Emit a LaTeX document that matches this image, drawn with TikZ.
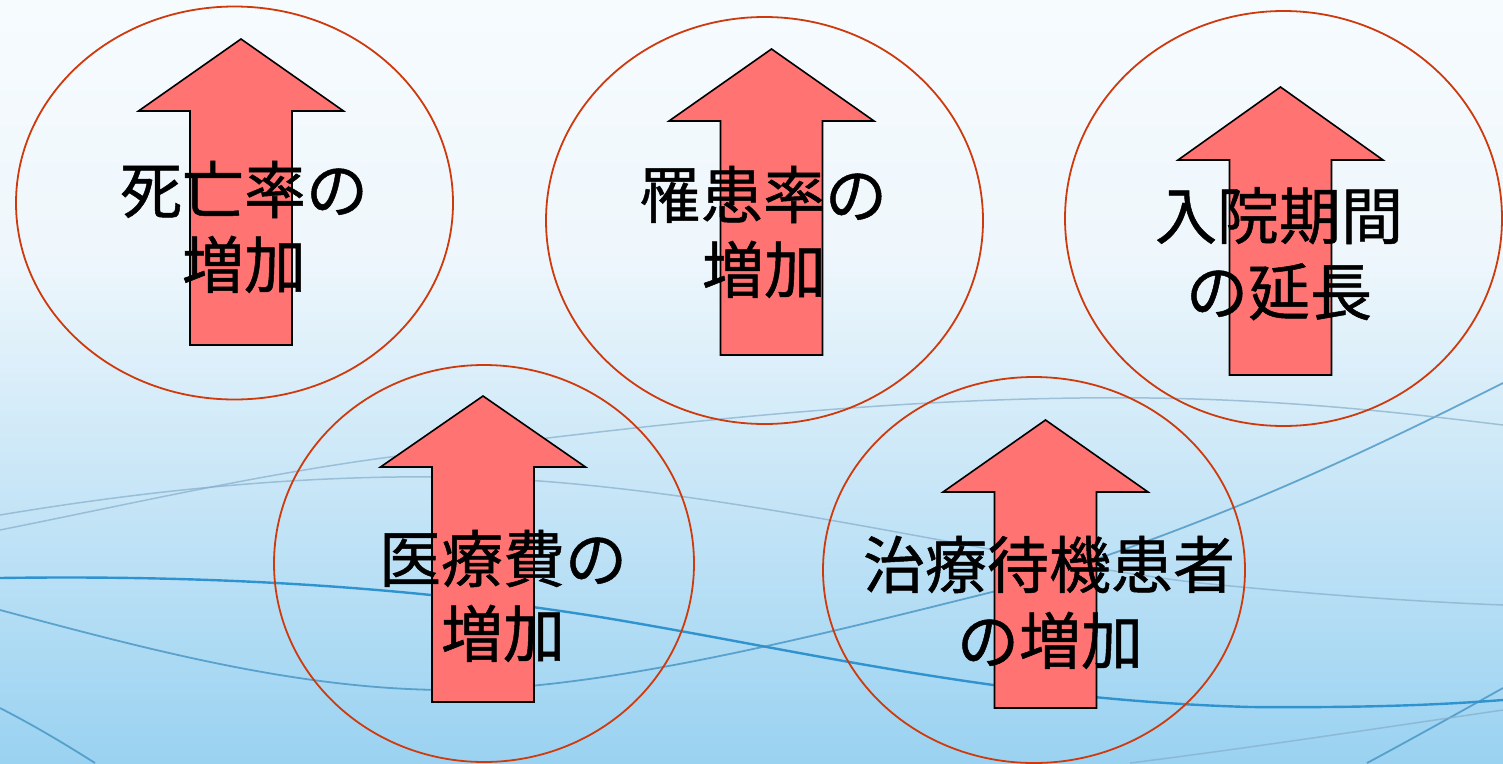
\documentclass[tikz,border=0pt]{standalone}
\usepackage{fontspec}
\newfontfamily\jpfont{Noto Sans CJK JP}[FakeBold=0.8]
\definecolor{bgtop}{HTML}{F6FBFE}
\definecolor{bgupper}{HTML}{EFF7FC}
\definecolor{bgmid}{HTML}{D0E9F7}
\definecolor{bgbot}{HTML}{9AD2F1}
\definecolor{ellred}{HTML}{CF3A0C}
\definecolor{arrowfill}{HTML}{FF7373}
\definecolor{wavedark}{HTML}{2F93D0}
\definecolor{wavelight}{HTML}{86AECB}
\newcommand\myarrow[4]{\draw[arrowshape] (#1,#2) -- (#1+102.5,#3) -- (#1+51,#3) -- (#1+51,#4) -- (#1-51,#4) -- (#1-51,#3) -- (#1-102.5,#3) -- cycle;}
\begin{document}
\begin{tikzpicture}[x=1pt,y=-1pt,
  ell/.style={draw=ellred,line width=1.8pt},
  arrowshape/.style={fill=arrowfill,draw=black,line width=1.6pt,line join=miter},
  lbl/.style={font=\jpfont\fontsize{62}{62}\selectfont,inner sep=0pt,anchor=base,text=black},
  wavemain/.style={draw=wavedark,line width=2.4pt},
  wavefaint/.style={draw=wavelight,line width=1.5pt,opacity=0.7},
  wavemid/.style={draw=wavedark!80!gray,line width=1.8pt,opacity=0.75}]
\useasboundingbox (0,0) rectangle (1503,763);
\shade[top color=bgtop,bottom color=bgupper] (0,0) rectangle (1503,251);
\shade[top color=bgupper,middle color=bgmid,bottom color=bgbot] (0,250) rectangle (1503,763);
% background waves
\draw[wavemain] (0,578) .. controls (200,575) and (400,585) .. (600,617) .. controls (800,650) and (1000,700) .. (1250,707) .. controls (1380,708) and (1450,704) .. (1503,700);
\draw[wavemid] (0,610) .. controls (150,650) and (300,690) .. (450,690) .. controls (600,690) and (800,640) .. (1000,590) .. controls (1200,530) and (1350,460) .. (1503,383);
\draw[wavefaint] (0,515) .. controls (150,490) and (300,475) .. (450,477) .. controls (700,480) and (1000,560) .. (1200,583) .. controls (1350,598) and (1450,603) .. (1503,605);
\draw[wavefaint] (0,530) .. controls (150,500) and (300,465) .. (450,450) .. controls (650,425) and (900,395) .. (1150,398) .. controls (1300,400) and (1420,415) .. (1503,425);
\draw[wavemid] (0,708) .. controls (35,726) and (65,744) .. (95,763);
\draw[wavemid] (1367,763) .. controls (1410,740) and (1460,712) .. (1503,688);
\draw[wavefaint] (1130,763) .. controls (1250,748) and (1400,725) .. (1503,710);
% ellipses
\draw[ell] (234.5,203) ellipse [x radius=218.5, y radius=196.5];
\draw[ell] (764.5,220.5) ellipse [x radius=218.5, y radius=203.5];
\draw[ell] (1283.5,218.5) ellipse [x radius=218.5, y radius=207.5];
\draw[ell] (484,563.5) ellipse [x radius=210, y radius=198.5];
\draw[ell] (1034,570) ellipse [x radius=211, y radius=193];
% arrows
\myarrow{241}{39}{111}{345}
\myarrow{771.5}{49}{121}{355}
\myarrow{1280.5}{87}{160}{375}
\myarrow{483}{396}{467}{702}
\myarrow{1045.5}{420}{492}{708}
% labels
\node[lbl] (t1a) at (244,213) {死亡率の};
\node[lbl] (t1b) at (244,288) {増加};
\node[lbl] (t2a) at (763,218) {罹患率の};
\node[lbl] (t2b) at (764,293) {増加};
\node[lbl] (t3a) at (1279,239) {入院期間};
\node[lbl] (t3b) at (1279,315) {の延長};
\node[lbl] (t4a) at (503,582) {医療費の};
\node[lbl] (t4b) at (503,657) {増加};
\node[lbl] (t5a) at (1049,588) {治療待機患者};
\node[lbl] (t5b) at (1050,664) {の増加};
\end{tikzpicture}
\end{document}
